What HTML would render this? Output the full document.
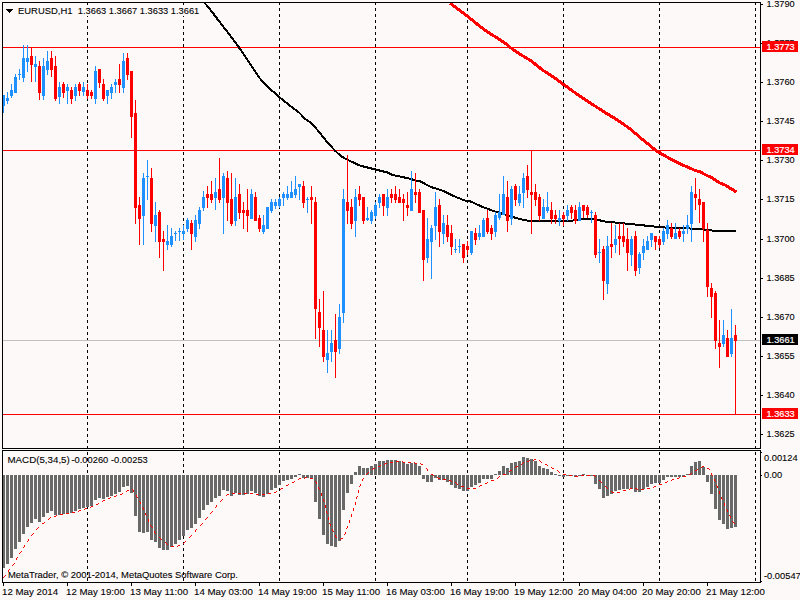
<!DOCTYPE html>
<html><head><meta charset="utf-8"><title>EURUSD,H1</title>
<style>html,body{margin:0;padding:0;background:#FDF9F8;overflow:hidden}body{width:800px;height:600px}svg{display:block}text{font-family:"Liberation Sans",sans-serif;font-size:9.8px;stroke-width:0.1px;white-space:pre}</style>
</head><body>
<svg width="800" height="600" viewBox="0 0 800 600">
<rect x="0" y="0" width="800" height="600" fill="#FDF9F8"/>
<defs><clipPath id="cm"><rect x="3" y="3" width="757" height="445"/></clipPath><clipPath id="cs"><rect x="3" y="451" width="757" height="131"/></clipPath></defs>
<g shape-rendering="crispEdges" stroke="#000" stroke-width="1" stroke-dasharray="3,3">
<line x1="87.5" y1="2" x2="87.5" y2="448"/>
<line x1="87.5" y1="452" x2="87.5" y2="582"/>
<line x1="183.5" y1="2" x2="183.5" y2="448"/>
<line x1="183.5" y1="452" x2="183.5" y2="582"/>
<line x1="279.5" y1="2" x2="279.5" y2="448"/>
<line x1="279.5" y1="452" x2="279.5" y2="582"/>
<line x1="375.5" y1="2" x2="375.5" y2="448"/>
<line x1="375.5" y1="452" x2="375.5" y2="582"/>
<line x1="467.5" y1="2" x2="467.5" y2="448"/>
<line x1="467.5" y1="452" x2="467.5" y2="582"/>
<line x1="563.5" y1="2" x2="563.5" y2="448"/>
<line x1="563.5" y1="452" x2="563.5" y2="582"/>
<line x1="659.5" y1="2" x2="659.5" y2="448"/>
<line x1="659.5" y1="452" x2="659.5" y2="582"/>
<line x1="755.5" y1="2" x2="755.5" y2="448"/>
<line x1="755.5" y1="452" x2="755.5" y2="582"/>
</g>
<g shape-rendering="crispEdges">
<rect x="3" y="340" width="757" height="1" fill="#C0C0C0"/>
<rect x="3" y="47" width="757" height="1" fill="#FF0000"/>
<rect x="3" y="150" width="757" height="1" fill="#FF0000"/>
<rect x="3" y="414" width="757" height="1" fill="#FF0000"/>
</g>
<g fill="none" stroke-linejoin="round" shape-rendering="crispEdges" clip-path="url(#cm)">
<polyline points="204,2 212.5,12.5 220,22.5 229,34 239,47.5 247.5,60 257,74 259,77.5 269,88 279.5,97.2 289,105 299,112.5 305,118.7 311,123 317.5,130 320,133 327.5,142.5 335,150.6 341,156.2 347.5,159.8 360,165.6 375,169.4 387.5,172.5 392.5,175 402.5,177 410,178.8 416,180.6 420,181.2 431,187 442.5,190.6 452.5,195.6 465,200.6 470,201.2 482.5,207 492.5,210.6 502.5,213.8 512.5,217 520,219 529,221 572,220.6 580,219.4 597,219.4 602.5,221.2 610,222 630,224 655,226.6 670,228 682,228 693,228.7 710,230 715,231.3 723,231 725,230.5 736,230.5" stroke="#000" stroke-width="2"/>
<polyline points="450,3 459,10 467.5,16.2 477.5,24.4 487.5,32 497.5,38.1 505,43.1 510,47.3 517.5,52.5 527.5,58.8 530,60 542.5,70 555,78.1 564,84.8 574,92 580,96.2 592.5,104.4 605,112.5 617.5,120 630,128.8 642.5,139.5 650,145.6 656,150.6 662.5,154.4 669,158.1 675,161.3 681,164.4 687.5,166.9 694,170 700,171.9 706,175 712.5,178.1 719,182.5 725,185 731,188.75 736.5,192" stroke="#FF0000" stroke-width="3"/>
</g>
<g shape-rendering="crispEdges" clip-path="url(#cm)">
<rect x="3" y="95" width="1" height="18" fill="#1E90FF"/>
<rect x="2" y="95" width="3" height="11" fill="#1E90FF"/>
<rect x="7" y="92" width="1" height="12" fill="#1E90FF"/>
<rect x="6" y="98" width="3" height="3" fill="#1E90FF"/>
<rect x="11" y="84" width="1" height="14" fill="#1E90FF"/>
<rect x="10" y="90" width="3" height="6" fill="#1E90FF"/>
<rect x="15" y="74" width="1" height="19" fill="#1E90FF"/>
<rect x="14" y="77" width="3" height="16" fill="#1E90FF"/>
<rect x="19" y="69" width="1" height="11" fill="#1E90FF"/>
<rect x="18" y="74" width="3" height="1" fill="#1E90FF"/>
<rect x="23" y="45" width="1" height="37" fill="#1E90FF"/>
<rect x="22" y="58" width="3" height="20" fill="#1E90FF"/>
<rect x="27" y="45" width="1" height="27" fill="#1E90FF"/>
<rect x="26" y="58" width="3" height="4" fill="#1E90FF"/>
<rect x="31" y="47" width="1" height="35" fill="#FF0000"/>
<rect x="30" y="56" width="3" height="9" fill="#FF0000"/>
<rect x="35" y="56" width="1" height="26" fill="#1E90FF"/>
<rect x="34" y="64" width="3" height="3" fill="#1E90FF"/>
<rect x="39" y="61" width="1" height="39" fill="#FF0000"/>
<rect x="38" y="66" width="3" height="27" fill="#FF0000"/>
<rect x="43" y="58" width="1" height="42" fill="#1E90FF"/>
<rect x="42" y="66" width="3" height="30" fill="#1E90FF"/>
<rect x="47" y="51" width="1" height="24" fill="#1E90FF"/>
<rect x="46" y="61" width="3" height="9" fill="#1E90FF"/>
<rect x="51" y="51" width="1" height="26" fill="#FF0000"/>
<rect x="50" y="58" width="3" height="12" fill="#FF0000"/>
<rect x="55" y="56" width="1" height="45" fill="#FF0000"/>
<rect x="54" y="66" width="3" height="33" fill="#FF0000"/>
<rect x="59" y="82" width="1" height="22" fill="#1E90FF"/>
<rect x="58" y="87" width="3" height="10" fill="#1E90FF"/>
<rect x="63" y="82" width="1" height="16" fill="#FF0000"/>
<rect x="62" y="84" width="3" height="9" fill="#FF0000"/>
<rect x="67" y="84" width="1" height="20" fill="#1E90FF"/>
<rect x="66" y="87" width="3" height="4" fill="#1E90FF"/>
<rect x="71" y="87" width="1" height="17" fill="#FF0000"/>
<rect x="70" y="90" width="3" height="9" fill="#FF0000"/>
<rect x="75" y="84" width="1" height="17" fill="#1E90FF"/>
<rect x="74" y="87" width="3" height="9" fill="#1E90FF"/>
<rect x="79" y="82" width="1" height="14" fill="#FF0000"/>
<rect x="78" y="84" width="3" height="7" fill="#FF0000"/>
<rect x="83" y="82" width="1" height="14" fill="#1E90FF"/>
<rect x="82" y="87" width="3" height="5" fill="#1E90FF"/>
<rect x="87" y="84" width="1" height="15" fill="#FF0000"/>
<rect x="86" y="90" width="3" height="6" fill="#FF0000"/>
<rect x="91" y="90" width="1" height="9" fill="#FF0000"/>
<rect x="90" y="92" width="3" height="4" fill="#FF0000"/>
<rect x="95" y="66" width="1" height="38" fill="#1E90FF"/>
<rect x="94" y="71" width="3" height="28" fill="#1E90FF"/>
<rect x="99" y="69" width="1" height="19" fill="#FF0000"/>
<rect x="98" y="69" width="3" height="14" fill="#FF0000"/>
<rect x="103" y="79" width="1" height="22" fill="#FF0000"/>
<rect x="102" y="84" width="3" height="15" fill="#FF0000"/>
<rect x="107" y="90" width="1" height="14" fill="#1E90FF"/>
<rect x="106" y="90" width="3" height="6" fill="#1E90FF"/>
<rect x="111" y="84" width="1" height="15" fill="#1E90FF"/>
<rect x="110" y="87" width="3" height="6" fill="#1E90FF"/>
<rect x="115" y="79" width="1" height="14" fill="#1E90FF"/>
<rect x="114" y="82" width="3" height="3" fill="#1E90FF"/>
<rect x="119" y="64" width="1" height="29" fill="#FF0000"/>
<rect x="118" y="79" width="3" height="6" fill="#FF0000"/>
<rect x="123" y="53" width="1" height="40" fill="#1E90FF"/>
<rect x="122" y="61" width="3" height="27" fill="#1E90FF"/>
<rect x="127" y="53" width="1" height="27" fill="#FF0000"/>
<rect x="126" y="58" width="3" height="17" fill="#FF0000"/>
<rect x="131" y="71" width="1" height="67" fill="#FF0000"/>
<rect x="130" y="71" width="3" height="46" fill="#FF0000"/>
<rect x="135" y="100" width="1" height="124" fill="#FF0000"/>
<rect x="134" y="113" width="3" height="95" fill="#FF0000"/>
<rect x="139" y="197" width="1" height="48" fill="#FF0000"/>
<rect x="138" y="205" width="3" height="14" fill="#FF0000"/>
<rect x="143" y="173" width="1" height="72" fill="#1E90FF"/>
<rect x="142" y="178" width="3" height="38" fill="#1E90FF"/>
<rect x="147" y="160" width="1" height="40" fill="#1E90FF"/>
<rect x="146" y="176" width="3" height="1" fill="#1E90FF"/>
<rect x="151" y="168" width="1" height="64" fill="#FF0000"/>
<rect x="150" y="178" width="3" height="46" fill="#FF0000"/>
<rect x="155" y="202" width="1" height="40" fill="#1E90FF"/>
<rect x="154" y="215" width="3" height="11" fill="#1E90FF"/>
<rect x="159" y="210" width="1" height="48" fill="#FF0000"/>
<rect x="158" y="212" width="3" height="30" fill="#FF0000"/>
<rect x="163" y="231" width="1" height="40" fill="#FF0000"/>
<rect x="162" y="239" width="3" height="3" fill="#FF0000"/>
<rect x="167" y="225" width="1" height="25" fill="#1E90FF"/>
<rect x="166" y="241" width="3" height="4" fill="#1E90FF"/>
<rect x="171" y="228" width="1" height="19" fill="#1E90FF"/>
<rect x="170" y="236" width="3" height="9" fill="#1E90FF"/>
<rect x="175" y="231" width="1" height="10" fill="#1E90FF"/>
<rect x="174" y="233" width="3" height="1" fill="#1E90FF"/>
<rect x="179" y="228" width="1" height="13" fill="#1E90FF"/>
<rect x="178" y="231" width="3" height="1" fill="#1E90FF"/>
<rect x="183" y="225" width="1" height="15" fill="#1E90FF"/>
<rect x="182" y="231" width="3" height="3" fill="#1E90FF"/>
<rect x="187" y="218" width="1" height="14" fill="#1E90FF"/>
<rect x="186" y="220" width="3" height="9" fill="#1E90FF"/>
<rect x="191" y="220" width="1" height="30" fill="#FF0000"/>
<rect x="190" y="223" width="3" height="11" fill="#FF0000"/>
<rect x="195" y="215" width="1" height="27" fill="#1E90FF"/>
<rect x="194" y="220" width="3" height="17" fill="#1E90FF"/>
<rect x="199" y="207" width="1" height="22" fill="#1E90FF"/>
<rect x="198" y="210" width="3" height="14" fill="#1E90FF"/>
<rect x="203" y="191" width="1" height="20" fill="#1E90FF"/>
<rect x="202" y="197" width="3" height="11" fill="#1E90FF"/>
<rect x="207" y="186" width="1" height="22" fill="#FF0000"/>
<rect x="206" y="194" width="3" height="4" fill="#FF0000"/>
<rect x="211" y="181" width="1" height="22" fill="#FF0000"/>
<rect x="210" y="194" width="3" height="6" fill="#FF0000"/>
<rect x="215" y="178" width="1" height="32" fill="#1E90FF"/>
<rect x="214" y="192" width="3" height="6" fill="#1E90FF"/>
<rect x="219" y="158" width="1" height="45" fill="#FF0000"/>
<rect x="218" y="189" width="3" height="11" fill="#FF0000"/>
<rect x="223" y="173" width="1" height="61" fill="#1E90FF"/>
<rect x="222" y="176" width="3" height="22" fill="#1E90FF"/>
<rect x="227" y="171" width="1" height="50" fill="#FF0000"/>
<rect x="226" y="178" width="3" height="25" fill="#FF0000"/>
<rect x="231" y="173" width="1" height="53" fill="#FF0000"/>
<rect x="230" y="199" width="3" height="25" fill="#FF0000"/>
<rect x="235" y="178" width="1" height="48" fill="#1E90FF"/>
<rect x="234" y="197" width="3" height="24" fill="#1E90FF"/>
<rect x="239" y="184" width="1" height="35" fill="#FF0000"/>
<rect x="238" y="194" width="3" height="19" fill="#FF0000"/>
<rect x="243" y="202" width="1" height="27" fill="#FF0000"/>
<rect x="242" y="210" width="3" height="3" fill="#FF0000"/>
<rect x="247" y="189" width="1" height="43" fill="#FF0000"/>
<rect x="246" y="210" width="3" height="6" fill="#FF0000"/>
<rect x="251" y="189" width="1" height="30" fill="#1E90FF"/>
<rect x="250" y="194" width="3" height="25" fill="#1E90FF"/>
<rect x="255" y="192" width="1" height="29" fill="#FF0000"/>
<rect x="254" y="197" width="3" height="24" fill="#FF0000"/>
<rect x="259" y="215" width="1" height="17" fill="#FF0000"/>
<rect x="258" y="218" width="3" height="11" fill="#FF0000"/>
<rect x="263" y="215" width="1" height="19" fill="#1E90FF"/>
<rect x="262" y="225" width="3" height="7" fill="#1E90FF"/>
<rect x="267" y="207" width="1" height="22" fill="#1E90FF"/>
<rect x="266" y="207" width="3" height="22" fill="#1E90FF"/>
<rect x="271" y="199" width="1" height="14" fill="#1E90FF"/>
<rect x="270" y="202" width="3" height="9" fill="#1E90FF"/>
<rect x="275" y="199" width="1" height="10" fill="#1E90FF"/>
<rect x="274" y="202" width="3" height="4" fill="#1E90FF"/>
<rect x="279" y="197" width="1" height="11" fill="#1E90FF"/>
<rect x="278" y="199" width="3" height="7" fill="#1E90FF"/>
<rect x="283" y="192" width="1" height="14" fill="#1E90FF"/>
<rect x="282" y="194" width="3" height="4" fill="#1E90FF"/>
<rect x="287" y="186" width="1" height="14" fill="#1E90FF"/>
<rect x="286" y="194" width="3" height="4" fill="#1E90FF"/>
<rect x="291" y="181" width="1" height="17" fill="#1E90FF"/>
<rect x="290" y="192" width="3" height="6" fill="#1E90FF"/>
<rect x="295" y="176" width="1" height="22" fill="#1E90FF"/>
<rect x="294" y="189" width="3" height="6" fill="#1E90FF"/>
<rect x="299" y="184" width="1" height="16" fill="#1E90FF"/>
<rect x="298" y="184" width="3" height="3" fill="#1E90FF"/>
<rect x="303" y="181" width="1" height="27" fill="#FF0000"/>
<rect x="302" y="186" width="3" height="17" fill="#FF0000"/>
<rect x="307" y="197" width="1" height="16" fill="#1E90FF"/>
<rect x="306" y="199" width="3" height="1" fill="#1E90FF"/>
<rect x="311" y="186" width="1" height="38" fill="#FF0000"/>
<rect x="310" y="197" width="3" height="3" fill="#FF0000"/>
<rect x="315" y="197" width="1" height="142" fill="#FF0000"/>
<rect x="314" y="202" width="3" height="107" fill="#FF0000"/>
<rect x="319" y="299" width="1" height="48" fill="#FF0000"/>
<rect x="318" y="312" width="3" height="16" fill="#FF0000"/>
<rect x="323" y="291" width="1" height="71" fill="#FF0000"/>
<rect x="322" y="330" width="3" height="27" fill="#FF0000"/>
<rect x="327" y="330" width="1" height="43" fill="#1E90FF"/>
<rect x="326" y="353" width="3" height="7" fill="#1E90FF"/>
<rect x="331" y="330" width="1" height="32" fill="#1E90FF"/>
<rect x="330" y="343" width="3" height="9" fill="#1E90FF"/>
<rect x="335" y="314" width="1" height="64" fill="#FF0000"/>
<rect x="334" y="340" width="3" height="12" fill="#FF0000"/>
<rect x="339" y="304" width="1" height="50" fill="#1E90FF"/>
<rect x="338" y="317" width="3" height="32" fill="#1E90FF"/>
<rect x="343" y="189" width="1" height="134" fill="#1E90FF"/>
<rect x="342" y="199" width="3" height="114" fill="#1E90FF"/>
<rect x="347" y="155" width="1" height="69" fill="#FF0000"/>
<rect x="346" y="202" width="3" height="9" fill="#FF0000"/>
<rect x="351" y="199" width="1" height="30" fill="#FF0000"/>
<rect x="350" y="207" width="3" height="17" fill="#FF0000"/>
<rect x="355" y="189" width="1" height="48" fill="#1E90FF"/>
<rect x="354" y="197" width="3" height="24" fill="#1E90FF"/>
<rect x="359" y="186" width="1" height="20" fill="#FF0000"/>
<rect x="358" y="194" width="3" height="6" fill="#FF0000"/>
<rect x="363" y="197" width="1" height="27" fill="#FF0000"/>
<rect x="362" y="197" width="3" height="24" fill="#FF0000"/>
<rect x="367" y="207" width="1" height="14" fill="#1E90FF"/>
<rect x="366" y="218" width="3" height="2" fill="#1E90FF"/>
<rect x="371" y="210" width="1" height="14" fill="#1E90FF"/>
<rect x="370" y="212" width="3" height="9" fill="#1E90FF"/>
<rect x="375" y="202" width="1" height="17" fill="#1E90FF"/>
<rect x="374" y="205" width="3" height="11" fill="#1E90FF"/>
<rect x="379" y="194" width="1" height="14" fill="#1E90FF"/>
<rect x="378" y="197" width="3" height="6" fill="#1E90FF"/>
<rect x="383" y="194" width="1" height="22" fill="#FF0000"/>
<rect x="382" y="194" width="3" height="12" fill="#FF0000"/>
<rect x="387" y="189" width="1" height="27" fill="#1E90FF"/>
<rect x="386" y="197" width="3" height="11" fill="#1E90FF"/>
<rect x="391" y="189" width="1" height="14" fill="#FF0000"/>
<rect x="390" y="194" width="3" height="4" fill="#FF0000"/>
<rect x="395" y="186" width="1" height="17" fill="#FF0000"/>
<rect x="394" y="194" width="3" height="6" fill="#FF0000"/>
<rect x="399" y="189" width="1" height="14" fill="#FF0000"/>
<rect x="398" y="197" width="3" height="6" fill="#FF0000"/>
<rect x="403" y="194" width="1" height="27" fill="#FF0000"/>
<rect x="402" y="199" width="3" height="4" fill="#FF0000"/>
<rect x="407" y="192" width="1" height="24" fill="#FF0000"/>
<rect x="406" y="205" width="3" height="3" fill="#FF0000"/>
<rect x="411" y="171" width="1" height="40" fill="#1E90FF"/>
<rect x="410" y="189" width="3" height="22" fill="#1E90FF"/>
<rect x="415" y="173" width="1" height="30" fill="#FF0000"/>
<rect x="414" y="192" width="3" height="3" fill="#FF0000"/>
<rect x="419" y="189" width="1" height="24" fill="#FF0000"/>
<rect x="418" y="192" width="3" height="21" fill="#FF0000"/>
<rect x="423" y="210" width="1" height="71" fill="#FF0000"/>
<rect x="422" y="210" width="3" height="50" fill="#FF0000"/>
<rect x="427" y="218" width="1" height="45" fill="#1E90FF"/>
<rect x="426" y="239" width="3" height="19" fill="#1E90FF"/>
<rect x="431" y="225" width="1" height="54" fill="#1E90FF"/>
<rect x="430" y="228" width="3" height="14" fill="#1E90FF"/>
<rect x="435" y="192" width="1" height="48" fill="#1E90FF"/>
<rect x="434" y="207" width="3" height="19" fill="#1E90FF"/>
<rect x="439" y="199" width="1" height="48" fill="#FF0000"/>
<rect x="438" y="205" width="3" height="27" fill="#FF0000"/>
<rect x="443" y="215" width="1" height="29" fill="#1E90FF"/>
<rect x="442" y="223" width="3" height="11" fill="#1E90FF"/>
<rect x="447" y="215" width="1" height="27" fill="#FF0000"/>
<rect x="446" y="225" width="3" height="12" fill="#FF0000"/>
<rect x="451" y="225" width="1" height="30" fill="#FF0000"/>
<rect x="450" y="233" width="3" height="14" fill="#FF0000"/>
<rect x="455" y="239" width="1" height="14" fill="#1E90FF"/>
<rect x="454" y="249" width="3" height="1" fill="#1E90FF"/>
<rect x="459" y="239" width="1" height="14" fill="#1E90FF"/>
<rect x="458" y="246" width="3" height="1" fill="#1E90FF"/>
<rect x="463" y="244" width="1" height="19" fill="#FF0000"/>
<rect x="462" y="244" width="3" height="14" fill="#FF0000"/>
<rect x="467" y="241" width="1" height="14" fill="#FF0000"/>
<rect x="466" y="246" width="3" height="4" fill="#FF0000"/>
<rect x="471" y="231" width="1" height="24" fill="#1E90FF"/>
<rect x="470" y="231" width="3" height="22" fill="#1E90FF"/>
<rect x="475" y="228" width="1" height="17" fill="#FF0000"/>
<rect x="474" y="233" width="3" height="7" fill="#FF0000"/>
<rect x="479" y="225" width="1" height="15" fill="#1E90FF"/>
<rect x="478" y="233" width="3" height="4" fill="#1E90FF"/>
<rect x="483" y="218" width="1" height="19" fill="#1E90FF"/>
<rect x="482" y="220" width="3" height="17" fill="#1E90FF"/>
<rect x="487" y="210" width="1" height="24" fill="#FF0000"/>
<rect x="486" y="218" width="3" height="14" fill="#FF0000"/>
<rect x="491" y="225" width="1" height="15" fill="#FF0000"/>
<rect x="490" y="228" width="3" height="6" fill="#FF0000"/>
<rect x="495" y="212" width="1" height="25" fill="#1E90FF"/>
<rect x="494" y="215" width="3" height="17" fill="#1E90FF"/>
<rect x="499" y="194" width="1" height="26" fill="#1E90FF"/>
<rect x="498" y="212" width="3" height="6" fill="#1E90FF"/>
<rect x="503" y="176" width="1" height="39" fill="#1E90FF"/>
<rect x="502" y="194" width="3" height="21" fill="#1E90FF"/>
<rect x="507" y="181" width="1" height="51" fill="#FF0000"/>
<rect x="506" y="197" width="3" height="24" fill="#FF0000"/>
<rect x="511" y="186" width="1" height="39" fill="#1E90FF"/>
<rect x="510" y="189" width="3" height="30" fill="#1E90FF"/>
<rect x="515" y="184" width="1" height="22" fill="#FF0000"/>
<rect x="514" y="186" width="3" height="14" fill="#FF0000"/>
<rect x="519" y="186" width="1" height="20" fill="#1E90FF"/>
<rect x="518" y="194" width="3" height="9" fill="#1E90FF"/>
<rect x="523" y="173" width="1" height="35" fill="#1E90FF"/>
<rect x="522" y="178" width="3" height="15" fill="#1E90FF"/>
<rect x="527" y="165" width="1" height="33" fill="#FF0000"/>
<rect x="526" y="176" width="3" height="14" fill="#FF0000"/>
<rect x="531" y="150" width="1" height="84" fill="#FF0000"/>
<rect x="530" y="192" width="3" height="3" fill="#FF0000"/>
<rect x="535" y="184" width="1" height="22" fill="#FF0000"/>
<rect x="534" y="192" width="3" height="8" fill="#FF0000"/>
<rect x="539" y="194" width="1" height="27" fill="#FF0000"/>
<rect x="538" y="197" width="3" height="19" fill="#FF0000"/>
<rect x="543" y="199" width="1" height="20" fill="#1E90FF"/>
<rect x="542" y="207" width="3" height="12" fill="#1E90FF"/>
<rect x="547" y="192" width="1" height="21" fill="#1E90FF"/>
<rect x="546" y="207" width="3" height="4" fill="#1E90FF"/>
<rect x="551" y="202" width="1" height="22" fill="#FF0000"/>
<rect x="550" y="210" width="3" height="9" fill="#FF0000"/>
<rect x="555" y="210" width="1" height="14" fill="#FF0000"/>
<rect x="554" y="215" width="3" height="4" fill="#FF0000"/>
<rect x="559" y="210" width="1" height="16" fill="#1E90FF"/>
<rect x="558" y="218" width="3" height="3" fill="#1E90FF"/>
<rect x="563" y="212" width="1" height="14" fill="#FF0000"/>
<rect x="562" y="215" width="3" height="4" fill="#FF0000"/>
<rect x="567" y="205" width="1" height="16" fill="#1E90FF"/>
<rect x="566" y="210" width="3" height="6" fill="#1E90FF"/>
<rect x="571" y="205" width="1" height="14" fill="#FF0000"/>
<rect x="570" y="207" width="3" height="6" fill="#FF0000"/>
<rect x="575" y="205" width="1" height="19" fill="#FF0000"/>
<rect x="574" y="210" width="3" height="11" fill="#FF0000"/>
<rect x="579" y="202" width="1" height="19" fill="#1E90FF"/>
<rect x="578" y="207" width="3" height="14" fill="#1E90FF"/>
<rect x="583" y="205" width="1" height="13" fill="#FF0000"/>
<rect x="582" y="205" width="3" height="6" fill="#FF0000"/>
<rect x="587" y="205" width="1" height="13" fill="#FF0000"/>
<rect x="586" y="207" width="3" height="8" fill="#FF0000"/>
<rect x="591" y="210" width="1" height="13" fill="#1E90FF"/>
<rect x="590" y="212" width="3" height="1" fill="#1E90FF"/>
<rect x="595" y="212" width="1" height="46" fill="#FF0000"/>
<rect x="594" y="215" width="3" height="40" fill="#FF0000"/>
<rect x="599" y="239" width="1" height="24" fill="#1E90FF"/>
<rect x="598" y="252" width="3" height="1" fill="#1E90FF"/>
<rect x="603" y="246" width="1" height="54" fill="#FF0000"/>
<rect x="602" y="249" width="3" height="32" fill="#FF0000"/>
<rect x="607" y="236" width="1" height="58" fill="#1E90FF"/>
<rect x="606" y="246" width="3" height="38" fill="#1E90FF"/>
<rect x="611" y="223" width="1" height="35" fill="#FF0000"/>
<rect x="610" y="244" width="3" height="3" fill="#FF0000"/>
<rect x="615" y="225" width="1" height="28" fill="#1E90FF"/>
<rect x="614" y="239" width="3" height="6" fill="#1E90FF"/>
<rect x="619" y="223" width="1" height="32" fill="#FF0000"/>
<rect x="618" y="236" width="3" height="3" fill="#FF0000"/>
<rect x="623" y="223" width="1" height="24" fill="#FF0000"/>
<rect x="622" y="236" width="3" height="6" fill="#FF0000"/>
<rect x="627" y="228" width="1" height="43" fill="#FF0000"/>
<rect x="626" y="239" width="3" height="14" fill="#FF0000"/>
<rect x="631" y="236" width="1" height="30" fill="#1E90FF"/>
<rect x="630" y="239" width="3" height="16" fill="#1E90FF"/>
<rect x="635" y="231" width="1" height="45" fill="#FF0000"/>
<rect x="634" y="236" width="3" height="35" fill="#FF0000"/>
<rect x="639" y="252" width="1" height="22" fill="#1E90FF"/>
<rect x="638" y="254" width="3" height="14" fill="#1E90FF"/>
<rect x="643" y="239" width="1" height="21" fill="#1E90FF"/>
<rect x="642" y="246" width="3" height="7" fill="#1E90FF"/>
<rect x="647" y="236" width="1" height="14" fill="#1E90FF"/>
<rect x="646" y="241" width="3" height="9" fill="#1E90FF"/>
<rect x="651" y="233" width="1" height="14" fill="#1E90FF"/>
<rect x="650" y="233" width="3" height="7" fill="#1E90FF"/>
<rect x="655" y="236" width="1" height="14" fill="#FF0000"/>
<rect x="654" y="236" width="3" height="6" fill="#FF0000"/>
<rect x="659" y="236" width="1" height="12" fill="#FF0000"/>
<rect x="658" y="239" width="3" height="6" fill="#FF0000"/>
<rect x="663" y="228" width="1" height="17" fill="#1E90FF"/>
<rect x="662" y="231" width="3" height="11" fill="#1E90FF"/>
<rect x="667" y="220" width="1" height="19" fill="#1E90FF"/>
<rect x="666" y="225" width="3" height="9" fill="#1E90FF"/>
<rect x="671" y="223" width="1" height="16" fill="#FF0000"/>
<rect x="670" y="228" width="3" height="9" fill="#FF0000"/>
<rect x="675" y="223" width="1" height="16" fill="#1E90FF"/>
<rect x="674" y="233" width="3" height="6" fill="#1E90FF"/>
<rect x="679" y="228" width="1" height="11" fill="#FF0000"/>
<rect x="678" y="231" width="3" height="6" fill="#FF0000"/>
<rect x="683" y="225" width="1" height="17" fill="#1E90FF"/>
<rect x="682" y="231" width="3" height="3" fill="#1E90FF"/>
<rect x="687" y="215" width="1" height="19" fill="#1E90FF"/>
<rect x="686" y="225" width="3" height="4" fill="#1E90FF"/>
<rect x="691" y="186" width="1" height="56" fill="#1E90FF"/>
<rect x="690" y="192" width="3" height="32" fill="#1E90FF"/>
<rect x="695" y="178" width="1" height="32" fill="#FF0000"/>
<rect x="694" y="194" width="3" height="4" fill="#FF0000"/>
<rect x="699" y="189" width="1" height="34" fill="#FF0000"/>
<rect x="698" y="199" width="3" height="6" fill="#FF0000"/>
<rect x="703" y="202" width="1" height="40" fill="#FF0000"/>
<rect x="702" y="202" width="3" height="27" fill="#FF0000"/>
<rect x="707" y="223" width="1" height="74" fill="#FF0000"/>
<rect x="706" y="230" width="3" height="57" fill="#FF0000"/>
<rect x="711" y="283" width="1" height="35" fill="#FF0000"/>
<rect x="710" y="288" width="3" height="9" fill="#FF0000"/>
<rect x="715" y="291" width="1" height="58" fill="#FF0000"/>
<rect x="714" y="293" width="3" height="48" fill="#FF0000"/>
<rect x="719" y="320" width="1" height="48" fill="#FF0000"/>
<rect x="718" y="343" width="3" height="4" fill="#FF0000"/>
<rect x="723" y="320" width="1" height="27" fill="#1E90FF"/>
<rect x="722" y="335" width="3" height="9" fill="#1E90FF"/>
<rect x="727" y="330" width="1" height="27" fill="#FF0000"/>
<rect x="726" y="338" width="3" height="19" fill="#FF0000"/>
<rect x="731" y="309" width="1" height="48" fill="#1E90FF"/>
<rect x="730" y="338" width="3" height="16" fill="#1E90FF"/>
<rect x="735" y="325" width="1" height="89" fill="#FF0000"/>
<rect x="734" y="335" width="3" height="6" fill="#FF0000"/>
</g>
<g shape-rendering="crispEdges" fill="#696969" clip-path="url(#cs)">
<rect x="2" y="475" width="3" height="93"/>
<rect x="6" y="475" width="3" height="89"/>
<rect x="10" y="475" width="3" height="83"/>
<rect x="14" y="475" width="3" height="74"/>
<rect x="18" y="475" width="3" height="67"/>
<rect x="22" y="475" width="3" height="59"/>
<rect x="26" y="475" width="3" height="52"/>
<rect x="30" y="475" width="3" height="48"/>
<rect x="34" y="475" width="3" height="44"/>
<rect x="38" y="475" width="3" height="47"/>
<rect x="42" y="475" width="3" height="42"/>
<rect x="46" y="475" width="3" height="38"/>
<rect x="50" y="475" width="3" height="36"/>
<rect x="54" y="475" width="3" height="40"/>
<rect x="58" y="475" width="3" height="40"/>
<rect x="62" y="475" width="3" height="39"/>
<rect x="66" y="475" width="3" height="39"/>
<rect x="70" y="475" width="3" height="38"/>
<rect x="74" y="475" width="3" height="36"/>
<rect x="78" y="475" width="3" height="34"/>
<rect x="82" y="475" width="3" height="33"/>
<rect x="86" y="475" width="3" height="32"/>
<rect x="90" y="475" width="3" height="31"/>
<rect x="94" y="475" width="3" height="25"/>
<rect x="98" y="475" width="3" height="23"/>
<rect x="102" y="475" width="3" height="24"/>
<rect x="106" y="475" width="3" height="22"/>
<rect x="110" y="475" width="3" height="21"/>
<rect x="114" y="475" width="3" height="19"/>
<rect x="118" y="475" width="3" height="17"/>
<rect x="122" y="475" width="3" height="12"/>
<rect x="126" y="475" width="3" height="11"/>
<rect x="130" y="475" width="3" height="18"/>
<rect x="134" y="475" width="3" height="41"/>
<rect x="138" y="475" width="3" height="57"/>
<rect x="142" y="475" width="3" height="58"/>
<rect x="146" y="475" width="3" height="57"/>
<rect x="150" y="475" width="3" height="65"/>
<rect x="154" y="475" width="3" height="67"/>
<rect x="158" y="475" width="3" height="73"/>
<rect x="162" y="475" width="3" height="75"/>
<rect x="166" y="475" width="3" height="75"/>
<rect x="170" y="475" width="3" height="72"/>
<rect x="174" y="475" width="3" height="69"/>
<rect x="178" y="475" width="3" height="65"/>
<rect x="182" y="475" width="3" height="61"/>
<rect x="186" y="475" width="3" height="55"/>
<rect x="190" y="475" width="3" height="53"/>
<rect x="194" y="475" width="3" height="49"/>
<rect x="198" y="475" width="3" height="43"/>
<rect x="202" y="475" width="3" height="35"/>
<rect x="206" y="475" width="3" height="30"/>
<rect x="210" y="475" width="3" height="27"/>
<rect x="214" y="475" width="3" height="23"/>
<rect x="218" y="475" width="3" height="21"/>
<rect x="222" y="475" width="3" height="15"/>
<rect x="226" y="475" width="3" height="16"/>
<rect x="230" y="475" width="3" height="21"/>
<rect x="234" y="475" width="3" height="18"/>
<rect x="238" y="475" width="3" height="20"/>
<rect x="242" y="475" width="3" height="20"/>
<rect x="246" y="475" width="3" height="19"/>
<rect x="250" y="475" width="3" height="16"/>
<rect x="254" y="475" width="3" height="18"/>
<rect x="258" y="475" width="3" height="21"/>
<rect x="262" y="475" width="3" height="22"/>
<rect x="266" y="475" width="3" height="19"/>
<rect x="270" y="475" width="3" height="15"/>
<rect x="274" y="475" width="3" height="13"/>
<rect x="278" y="475" width="3" height="10"/>
<rect x="282" y="475" width="3" height="6"/>
<rect x="286" y="475" width="3" height="5"/>
<rect x="290" y="475" width="3" height="4"/>
<rect x="294" y="475" width="3" height="2"/>
<rect x="298" y="474" width="3" height="1"/>
<rect x="302" y="475" width="3" height="3"/>
<rect x="306" y="475" width="3" height="3"/>
<rect x="310" y="475" width="3" height="3"/>
<rect x="314" y="475" width="3" height="27"/>
<rect x="318" y="475" width="3" height="44"/>
<rect x="322" y="475" width="3" height="60"/>
<rect x="326" y="475" width="3" height="69"/>
<rect x="330" y="475" width="3" height="71"/>
<rect x="334" y="475" width="3" height="72"/>
<rect x="338" y="475" width="3" height="66"/>
<rect x="342" y="475" width="3" height="35"/>
<rect x="346" y="475" width="3" height="18"/>
<rect x="350" y="475" width="3" height="9"/>
<rect x="354" y="472" width="3" height="3"/>
<rect x="358" y="466" width="3" height="9"/>
<rect x="362" y="468" width="3" height="7"/>
<rect x="366" y="468" width="3" height="7"/>
<rect x="370" y="466" width="3" height="9"/>
<rect x="374" y="464" width="3" height="11"/>
<rect x="378" y="461" width="3" height="14"/>
<rect x="382" y="461" width="3" height="14"/>
<rect x="386" y="460" width="3" height="15"/>
<rect x="390" y="460" width="3" height="15"/>
<rect x="394" y="460" width="3" height="15"/>
<rect x="398" y="461" width="3" height="14"/>
<rect x="402" y="462" width="3" height="13"/>
<rect x="406" y="464" width="3" height="11"/>
<rect x="410" y="463" width="3" height="12"/>
<rect x="414" y="463" width="3" height="12"/>
<rect x="418" y="466" width="3" height="9"/>
<rect x="422" y="475" width="3" height="4"/>
<rect x="426" y="475" width="3" height="7"/>
<rect x="430" y="475" width="3" height="7"/>
<rect x="434" y="475" width="3" height="3"/>
<rect x="438" y="475" width="3" height="5"/>
<rect x="442" y="475" width="3" height="5"/>
<rect x="446" y="475" width="3" height="7"/>
<rect x="450" y="475" width="3" height="10"/>
<rect x="454" y="475" width="3" height="13"/>
<rect x="458" y="475" width="3" height="14"/>
<rect x="462" y="475" width="3" height="16"/>
<rect x="466" y="475" width="3" height="16"/>
<rect x="470" y="475" width="3" height="12"/>
<rect x="474" y="475" width="3" height="10"/>
<rect x="478" y="475" width="3" height="8"/>
<rect x="482" y="475" width="3" height="4"/>
<rect x="486" y="475" width="3" height="4"/>
<rect x="490" y="475" width="3" height="4"/>
<rect x="494" y="474" width="3" height="1"/>
<rect x="498" y="471" width="3" height="4"/>
<rect x="502" y="466" width="3" height="9"/>
<rect x="506" y="468" width="3" height="7"/>
<rect x="510" y="463" width="3" height="12"/>
<rect x="514" y="462" width="3" height="13"/>
<rect x="518" y="461" width="3" height="14"/>
<rect x="522" y="457" width="3" height="18"/>
<rect x="526" y="458" width="3" height="17"/>
<rect x="530" y="459" width="3" height="16"/>
<rect x="534" y="461" width="3" height="14"/>
<rect x="538" y="466" width="3" height="9"/>
<rect x="542" y="468" width="3" height="7"/>
<rect x="546" y="469" width="3" height="6"/>
<rect x="550" y="472" width="3" height="3"/>
<rect x="554" y="474" width="3" height="1"/>
<rect x="558" y="475" width="3" height="1"/>
<rect x="562" y="475" width="3" height="2"/>
<rect x="566" y="475" width="3" height="1"/>
<rect x="570" y="475" width="3" height="1"/>
<rect x="574" y="475" width="3" height="2"/>
<rect x="578" y="475" width="3" height="1"/>
<rect x="582" y="474" width="3" height="1"/>
<rect x="586" y="475" width="3" height="1"/>
<rect x="590" y="475" width="3" height="1"/>
<rect x="594" y="475" width="3" height="9"/>
<rect x="598" y="475" width="3" height="14"/>
<rect x="602" y="475" width="3" height="23"/>
<rect x="606" y="475" width="3" height="21"/>
<rect x="610" y="475" width="3" height="19"/>
<rect x="614" y="475" width="3" height="16"/>
<rect x="618" y="475" width="3" height="15"/>
<rect x="622" y="475" width="3" height="14"/>
<rect x="626" y="475" width="3" height="14"/>
<rect x="630" y="475" width="3" height="14"/>
<rect x="634" y="475" width="3" height="17"/>
<rect x="638" y="475" width="3" height="17"/>
<rect x="642" y="475" width="3" height="14"/>
<rect x="646" y="475" width="3" height="12"/>
<rect x="650" y="475" width="3" height="9"/>
<rect x="654" y="475" width="3" height="8"/>
<rect x="658" y="475" width="3" height="8"/>
<rect x="662" y="475" width="3" height="5"/>
<rect x="666" y="475" width="3" height="2"/>
<rect x="670" y="475" width="3" height="2"/>
<rect x="674" y="475" width="3" height="2"/>
<rect x="678" y="475" width="3" height="2"/>
<rect x="682" y="475" width="3" height="2"/>
<rect x="686" y="474" width="3" height="1"/>
<rect x="690" y="466" width="3" height="9"/>
<rect x="694" y="462" width="3" height="13"/>
<rect x="698" y="461" width="3" height="14"/>
<rect x="702" y="467" width="3" height="8"/>
<rect x="706" y="475" width="3" height="7"/>
<rect x="710" y="475" width="3" height="19"/>
<rect x="714" y="475" width="3" height="34"/>
<rect x="718" y="475" width="3" height="45"/>
<rect x="722" y="475" width="3" height="49"/>
<rect x="726" y="475" width="3" height="54"/>
<rect x="730" y="475" width="3" height="53"/>
<rect x="734" y="475" width="3" height="52"/>
</g>
<path d="M3 577h1v1h-1zM4 576h1v1h-1zM5 575h1v1h-1zM8 571h1v1h-1zM8 570h1v1h-1zM9 569h1v1h-1zM12 565h1v1h-1zM13 564h1v1h-1zM14 563h1v1h-1zM16 559h1v1h-1zM16 558h1v1h-1zM17 557h1v1h-1zM19 553h1v1h-1zM20 552h1v1h-1zM21 551h1v1h-1zM23 547h1v1h-1zM24 546h1v1h-1zM24 545h1v1h-1zM27 541h1v1h-1zM28 540h1v1h-1zM28 539h1v1h-1zM31 535h1v1h-1zM32 534h1v1h-1zM33 533h1v1h-1zM36 529h1v1h-1zM37 528h1v1h-1zM38 527h1v1h-1zM42 523h1v1h-1zM43 523h1v1h-1zM44 522h1v1h-1zM48 519h1v1h-1zM49 518h1v1h-1zM50 517h1v1h-1zM54 516h1v1h-1zM55 516h1v1h-1zM56 515h1v1h-1zM60 514h1v1h-1zM61 514h1v1h-1zM62 514h1v1h-1zM66 513h1v1h-1zM67 513h1v1h-1zM68 513h1v1h-1zM72 512h1v1h-1zM73 512h1v1h-1zM74 512h1v1h-1zM78 511h1v1h-1zM79 510h1v1h-1zM80 510h1v1h-1zM84 509h1v1h-1zM85 508h1v1h-1zM86 508h1v1h-1zM90 507h1v1h-1zM91 506h1v1h-1zM92 506h1v1h-1zM96 504h1v1h-1zM97 504h1v1h-1zM98 503h1v1h-1zM102 501h1v1h-1zM103 500h1v1h-1zM104 500h1v1h-1zM108 498h1v1h-1zM109 498h1v1h-1zM110 497h1v1h-1zM114 496h1v1h-1zM115 496h1v1h-1zM116 495h1v1h-1zM120 494h1v1h-1zM121 494h1v1h-1zM122 493h1v1h-1zM126 491h1v1h-1zM127 490h1v1h-1zM128 490h1v1h-1zM132 489h1v1h-1zM133 490h1v1h-1zM133 491h1v1h-1zM136 495h1v1h-1zM136 496h1v1h-1zM137 497h1v1h-1zM139 501h1v1h-1zM140 502h1v1h-1zM140 503h1v1h-1zM142 507h1v1h-1zM143 508h1v1h-1zM143 509h1v1h-1zM145 513h1v1h-1zM145 514h1v1h-1zM146 515h1v1h-1zM148 519h1v1h-1zM148 520h1v1h-1zM148 521h1v1h-1zM150 525h1v1h-1zM151 526h1v1h-1zM152 527h1v1h-1zM154 531h1v1h-1zM154 532h1v1h-1zM155 533h1v1h-1zM159 537h1v1h-1zM160 538h1v1h-1zM161 539h1v1h-1zM165 542h1v1h-1zM166 543h1v1h-1zM167 544h1v1h-1zM171 546h1v1h-1zM172 546h1v1h-1zM173 546h1v1h-1zM177 546h1v1h-1zM178 545h1v1h-1zM179 545h1v1h-1zM183 543h1v1h-1zM184 542h1v1h-1zM185 541h1v1h-1zM189 537h1v1h-1zM190 536h1v1h-1zM191 535h1v1h-1zM195 531h1v1h-1zM195 530h1v1h-1zM196 529h1v1h-1zM200 525h1v1h-1zM201 524h1v1h-1zM202 523h1v1h-1zM205 519h1v1h-1zM206 518h1v1h-1zM207 517h1v1h-1zM210 513h1v1h-1zM211 512h1v1h-1zM212 511h1v1h-1zM215 507h1v1h-1zM216 506h1v1h-1zM216 505h1v1h-1zM220 501h1v1h-1zM221 500h1v1h-1zM222 499h1v1h-1zM226 495h1v1h-1zM227 494h1v1h-1zM228 494h1v1h-1zM232 493h1v1h-1zM233 493h1v1h-1zM234 493h1v1h-1zM238 493h1v1h-1zM239 493h1v1h-1zM240 493h1v1h-1zM244 493h1v1h-1zM245 493h1v1h-1zM246 493h1v1h-1zM250 493h1v1h-1zM251 493h1v1h-1zM252 493h1v1h-1zM256 494h1v1h-1zM257 494h1v1h-1zM258 494h1v1h-1zM262 494h1v1h-1zM263 494h1v1h-1zM264 494h1v1h-1zM268 493h1v1h-1zM269 493h1v1h-1zM270 493h1v1h-1zM274 492h1v1h-1zM275 492h1v1h-1zM276 491h1v1h-1zM280 489h1v1h-1zM281 488h1v1h-1zM282 488h1v1h-1zM286 485h1v1h-1zM287 485h1v1h-1zM288 484h1v1h-1zM292 482h1v1h-1zM293 482h1v1h-1zM294 481h1v1h-1zM298 479h1v1h-1zM299 478h1v1h-1zM300 478h1v1h-1zM304 478h1v1h-1zM305 477h1v1h-1zM306 477h1v1h-1zM310 478h1v1h-1zM311 478h1v1h-1zM312 478h1v1h-1zM315 481h1v1h-1zM316 482h1v1h-1zM316 483h1v1h-1zM318 487h1v1h-1zM318 488h1v1h-1zM319 489h1v1h-1zM321 493h1v1h-1zM321 494h1v1h-1zM321 495h1v1h-1zM323 499h1v1h-1zM323 500h1v1h-1zM324 501h1v1h-1zM325 505h1v1h-1zM325 506h1v1h-1zM325 507h1v1h-1zM326 511h1v1h-1zM326 512h1v1h-1zM327 513h1v1h-1zM328 517h1v1h-1zM328 518h1v1h-1zM328 519h1v1h-1zM329 523h1v1h-1zM330 524h1v1h-1zM330 525h1v1h-1zM332 529h1v1h-1zM332 530h1v1h-1zM333 531h1v1h-1zM335 535h1v1h-1zM335 536h1v1h-1zM336 537h1v1h-1zM340 539h1v1h-1zM341 538h1v1h-1zM342 538h1v1h-1zM344 534h1v1h-1zM345 533h1v1h-1zM345 532h1v1h-1zM346 528h1v1h-1zM347 527h1v1h-1zM347 526h1v1h-1zM349 522h1v1h-1zM349 521h1v1h-1zM349 520h1v1h-1zM351 516h1v1h-1zM351 515h1v1h-1zM351 514h1v1h-1zM353 510h1v1h-1zM353 509h1v1h-1zM353 508h1v1h-1zM355 504h1v1h-1zM355 503h1v1h-1zM355 502h1v1h-1zM356 498h1v1h-1zM356 497h1v1h-1zM357 496h1v1h-1zM358 492h1v1h-1zM358 491h1v1h-1zM358 490h1v1h-1zM359 486h1v1h-1zM360 485h1v1h-1zM360 484h1v1h-1zM362 480h1v1h-1zM362 479h1v1h-1zM363 478h1v1h-1zM366 474h1v1h-1zM367 473h1v1h-1zM368 472h1v1h-1zM372 469h1v1h-1zM373 468h1v1h-1zM374 468h1v1h-1zM378 466h1v1h-1zM379 466h1v1h-1zM380 465h1v1h-1zM384 464h1v1h-1zM385 463h1v1h-1zM386 463h1v1h-1zM390 462h1v1h-1zM391 462h1v1h-1zM392 462h1v1h-1zM396 461h1v1h-1zM397 461h1v1h-1zM398 461h1v1h-1zM402 461h1v1h-1zM403 462h1v1h-1zM404 462h1v1h-1zM408 462h1v1h-1zM409 462h1v1h-1zM410 462h1v1h-1zM414 462h1v1h-1zM415 463h1v1h-1zM416 463h1v1h-1zM420 463h1v1h-1zM421 464h1v1h-1zM422 464h1v1h-1zM426 468h1v1h-1zM427 469h1v1h-1zM427 470h1v1h-1zM431 474h1v1h-1zM432 474h1v1h-1zM433 475h1v1h-1zM437 477h1v1h-1zM438 478h1v1h-1zM439 478h1v1h-1zM443 479h1v1h-1zM444 479h1v1h-1zM445 479h1v1h-1zM449 480h1v1h-1zM450 480h1v1h-1zM451 481h1v1h-1zM455 482h1v1h-1zM456 483h1v1h-1zM457 484h1v1h-1zM461 486h1v1h-1zM462 486h1v1h-1zM463 486h1v1h-1zM467 488h1v1h-1zM468 488h1v1h-1zM469 488h1v1h-1zM473 488h1v1h-1zM474 488h1v1h-1zM475 488h1v1h-1zM479 486h1v1h-1zM480 485h1v1h-1zM481 485h1v1h-1zM485 483h1v1h-1zM486 483h1v1h-1zM487 482h1v1h-1zM491 480h1v1h-1zM492 480h1v1h-1zM493 480h1v1h-1zM497 478h1v1h-1zM498 477h1v1h-1zM499 476h1v1h-1zM503 474h1v1h-1zM504 474h1v1h-1zM505 474h1v1h-1zM509 471h1v1h-1zM510 470h1v1h-1zM511 470h1v1h-1zM515 467h1v1h-1zM516 466h1v1h-1zM517 466h1v1h-1zM521 464h1v1h-1zM522 463h1v1h-1zM523 462h1v1h-1zM527 461h1v1h-1zM528 461h1v1h-1zM529 460h1v1h-1zM533 460h1v1h-1zM534 459h1v1h-1zM535 459h1v1h-1zM539 460h1v1h-1zM540 461h1v1h-1zM541 462h1v1h-1zM545 464h1v1h-1zM546 464h1v1h-1zM547 465h1v1h-1zM551 467h1v1h-1zM552 468h1v1h-1zM553 468h1v1h-1zM557 470h1v1h-1zM558 471h1v1h-1zM559 472h1v1h-1zM563 474h1v1h-1zM564 474h1v1h-1zM565 474h1v1h-1zM569 475h1v1h-1zM570 475h1v1h-1zM571 475h1v1h-1zM575 476h1v1h-1zM576 476h1v1h-1zM577 476h1v1h-1zM581 475h1v1h-1zM582 475h1v1h-1zM583 475h1v1h-1zM587 475h1v1h-1zM588 475h1v1h-1zM589 475h1v1h-1zM593 475h1v1h-1zM594 475h1v1h-1zM595 476h1v1h-1zM599 480h1v1h-1zM600 481h1v1h-1zM601 482h1v1h-1zM605 486h1v1h-1zM606 487h1v1h-1zM607 488h1v1h-1zM611 491h1v1h-1zM612 492h1v1h-1zM613 492h1v1h-1zM617 492h1v1h-1zM618 492h1v1h-1zM619 492h1v1h-1zM623 490h1v1h-1zM624 490h1v1h-1zM625 490h1v1h-1zM629 489h1v1h-1zM630 488h1v1h-1zM631 488h1v1h-1zM635 488h1v1h-1zM636 488h1v1h-1zM637 489h1v1h-1zM641 489h1v1h-1zM642 489h1v1h-1zM643 489h1v1h-1zM647 488h1v1h-1zM648 488h1v1h-1zM649 488h1v1h-1zM653 487h1v1h-1zM654 486h1v1h-1zM655 486h1v1h-1zM659 484h1v1h-1zM660 484h1v1h-1zM661 484h1v1h-1zM665 482h1v1h-1zM666 482h1v1h-1zM667 481h1v1h-1zM671 480h1v1h-1zM672 479h1v1h-1zM673 479h1v1h-1zM677 478h1v1h-1zM678 478h1v1h-1zM679 477h1v1h-1zM683 476h1v1h-1zM684 476h1v1h-1zM685 476h1v1h-1zM689 474h1v1h-1zM690 474h1v1h-1zM691 473h1v1h-1zM695 470h1v1h-1zM696 470h1v1h-1zM697 469h1v1h-1zM701 467h1v1h-1zM702 466h1v1h-1zM703 466h1v1h-1zM707 468h1v1h-1zM708 468h1v1h-1zM709 469h1v1h-1zM711 473h1v1h-1zM711 474h1v1h-1zM712 475h1v1h-1zM714 479h1v1h-1zM714 480h1v1h-1zM715 481h1v1h-1zM716 485h1v1h-1zM717 486h1v1h-1zM717 487h1v1h-1zM719 491h1v1h-1zM719 492h1v1h-1zM719 493h1v1h-1zM721 497h1v1h-1zM721 498h1v1h-1zM722 499h1v1h-1zM724 503h1v1h-1zM724 504h1v1h-1zM724 505h1v1h-1zM726 509h1v1h-1zM727 510h1v1h-1zM727 511h1v1h-1zM729 515h1v1h-1zM730 516h1v1h-1zM730 517h1v1h-1zM732 521h1v1h-1zM733 522h1v1h-1zM734 523h1v1h-1z" fill="#FF0000" shape-rendering="crispEdges" clip-path="url(#cs)"/>
<g shape-rendering="crispEdges" fill="#000">
<rect x="2" y="2" width="759" height="1"/>
<rect x="2" y="448" width="759" height="1"/>
<rect x="2" y="450" width="759" height="1"/>
<rect x="2" y="582" width="759" height="1"/>
<rect x="2" y="2" width="1" height="447"/>
<rect x="2" y="450" width="1" height="133"/>
<rect x="760" y="2" width="1" height="447"/>
<rect x="760" y="450" width="1" height="133"/>
<rect x="761" y="4" width="2" height="1"/>
<rect x="761" y="43" width="2" height="1"/>
<rect x="761" y="82" width="2" height="1"/>
<rect x="761" y="121" width="2" height="1"/>
<rect x="761" y="160" width="2" height="1"/>
<rect x="761" y="199" width="2" height="1"/>
<rect x="761" y="239" width="2" height="1"/>
<rect x="761" y="278" width="2" height="1"/>
<rect x="761" y="317" width="2" height="1"/>
<rect x="761" y="356" width="2" height="1"/>
<rect x="761" y="395" width="2" height="1"/>
<rect x="761" y="434" width="2" height="1"/>
<rect x="761" y="452" width="1" height="1"/>
<rect x="761" y="475" width="1" height="1"/>
<rect x="761" y="581" width="1" height="1"/>
<rect x="3" y="583" width="1" height="3"/>
<rect x="67" y="583" width="1" height="3"/>
<rect x="131" y="583" width="1" height="3"/>
<rect x="195" y="583" width="1" height="3"/>
<rect x="259" y="583" width="1" height="3"/>
<rect x="323" y="583" width="1" height="3"/>
<rect x="387" y="583" width="1" height="3"/>
<rect x="451" y="583" width="1" height="3"/>
<rect x="515" y="583" width="1" height="3"/>
<rect x="579" y="583" width="1" height="3"/>
<rect x="643" y="583" width="1" height="3"/>
<rect x="707" y="583" width="1" height="3"/>
</g>
<text transform="translate(766.5,7) scale(0.9388,1)" fill="#000" stroke="#000">1.3790</text>
<text transform="translate(766.5,46) scale(0.9388,1)" fill="#000" stroke="#000">1.3775</text>
<text transform="translate(766.5,85) scale(0.9388,1)" fill="#000" stroke="#000">1.3760</text>
<text transform="translate(766.5,124) scale(0.9388,1)" fill="#000" stroke="#000">1.3745</text>
<text transform="translate(766.5,163) scale(0.9388,1)" fill="#000" stroke="#000">1.3730</text>
<text transform="translate(766.5,202) scale(0.9388,1)" fill="#000" stroke="#000">1.3715</text>
<text transform="translate(766.5,242) scale(0.9388,1)" fill="#000" stroke="#000">1.3700</text>
<text transform="translate(766.5,281) scale(0.9388,1)" fill="#000" stroke="#000">1.3685</text>
<text transform="translate(766.5,320) scale(0.9388,1)" fill="#000" stroke="#000">1.3670</text>
<text transform="translate(766.5,359) scale(0.9388,1)" fill="#000" stroke="#000">1.3655</text>
<text transform="translate(766.5,398) scale(0.9388,1)" fill="#000" stroke="#000">1.3640</text>
<text transform="translate(766.5,437) scale(0.9388,1)" fill="#000" stroke="#000">1.3625</text>
<text transform="translate(764,461) scale(0.9520,1)" fill="#000" stroke="#000">0.00124</text>
<text transform="translate(764,478) scale(0.9520,1)" fill="#000" stroke="#000">0.00</text>
<text transform="translate(764,579) scale(0.9520,1)" fill="#000" stroke="#000">-0.00547</text>
<rect x="762" y="41" width="36" height="11" fill="#FF0000" shape-rendering="crispEdges"/>
<text transform="translate(766.5,50) scale(0.9388,1)" fill="#fff" stroke="#fff" style="stroke-width:0.2px">1.3773</text>
<rect x="762" y="144" width="36" height="11" fill="#FF0000" shape-rendering="crispEdges"/>
<text transform="translate(766.5,153) scale(0.9388,1)" fill="#fff" stroke="#fff" style="stroke-width:0.2px">1.3734</text>
<rect x="762" y="334" width="36" height="11" fill="#000" shape-rendering="crispEdges"/>
<text transform="translate(766.5,343) scale(0.9388,1)" fill="#fff" stroke="#fff" style="stroke-width:0.2px">1.3661</text>
<rect x="762" y="408" width="36" height="11" fill="#FF0000" shape-rendering="crispEdges"/>
<text transform="translate(766.5,417) scale(0.9388,1)" fill="#fff" stroke="#fff" style="stroke-width:0.2px">1.3633</text>
<text transform="translate(2,595) scale(0.9898,1)" fill="#000" stroke="#000">12 May 2014</text>
<text transform="translate(66,595) scale(0.9898,1)" fill="#000" stroke="#000">12 May 19:00</text>
<text transform="translate(130,595) scale(0.9898,1)" fill="#000" stroke="#000">13 May 11:00</text>
<text transform="translate(194,595) scale(0.9898,1)" fill="#000" stroke="#000">14 May 03:00</text>
<text transform="translate(258,595) scale(0.9898,1)" fill="#000" stroke="#000">14 May 19:00</text>
<text transform="translate(322,595) scale(0.9898,1)" fill="#000" stroke="#000">15 May 11:00</text>
<text transform="translate(386,595) scale(0.9898,1)" fill="#000" stroke="#000">16 May 03:00</text>
<text transform="translate(450,595) scale(0.9898,1)" fill="#000" stroke="#000">16 May 19:00</text>
<text transform="translate(514,595) scale(0.9898,1)" fill="#000" stroke="#000">19 May 12:00</text>
<text transform="translate(578,595) scale(0.9898,1)" fill="#000" stroke="#000">20 May 04:00</text>
<text transform="translate(642,595) scale(0.9898,1)" fill="#000" stroke="#000">20 May 20:00</text>
<text transform="translate(706,595) scale(0.9898,1)" fill="#000" stroke="#000">21 May 12:00</text>
<path d="M6 9h7v1h-1v1h-1v1h-1v1h-1v-1h-1v-1h-1v-1h-1z" fill="#000" shape-rendering="crispEdges"/>
<rect x="17" y="5" width="184" height="11" fill="#FDF9F8"/>
<text transform="translate(18,14) scale(0.9643,1)" fill="#000" stroke="#000">EURUSD,H1</text>
<text transform="translate(77.8,14) scale(0.9490,1)" fill="#000" stroke="#000">1.3663 1.3667 1.3633 1.3661</text>
<text transform="translate(7.5,463) scale(0.9949,1)" fill="#000" stroke="#000">MACD(5,34,5)</text>
<text transform="translate(71.5,463) scale(0.9520,1)" fill="#000" stroke="#000">-0.00260</text>
<text transform="translate(111,463) scale(0.9520,1)" fill="#000" stroke="#000">-0.00253</text>
<text transform="translate(8,578) scale(0.9643,1)" fill="#000" stroke="#000">MetaTrader, © 2001-2014, MetaQuotes Software Corp.</text>
</svg></body></html>
